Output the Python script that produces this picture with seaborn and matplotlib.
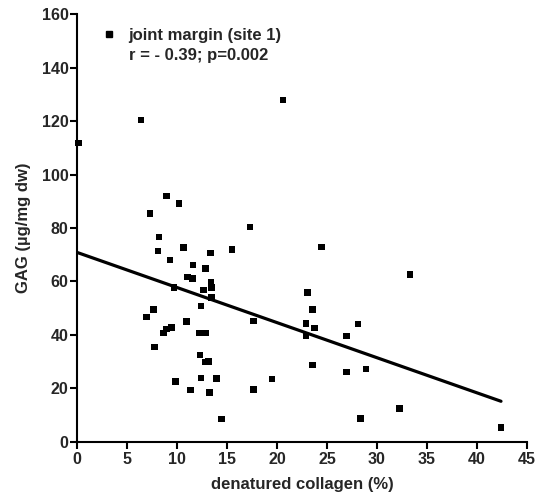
import numpy as np
import pandas as pd
import matplotlib
matplotlib.use("Agg")
import matplotlib.pyplot as plt
import seaborn as sns
from matplotlib.lines import Line2D

# Data
denatured_collagen = [0.13, 6.4, 20.6, 7.3, 8.97, 10.2, 17.3,
                      8.2, 8.1, 10.63, 9.3, 13.33, 15.5, 11.6, 12.83, 11.03, 11.57,
                      13.4, 13.47, 9.7, 12.63, 13.47, 12.4, 7.67, 6.97, 10.97, 17.63,
                      9.43, 8.97, 8.63, 12.2, 12.83, 7.73, 12.3, 12.83, 13.17, 12.4,
                      13.93, 19.5, 9.83, 11.33, 17.63, 13.23, 14.47,
                      24.43, 33.3, 23.03, 23.53, 22.9, 23.73, 28.1, 22.9, 26.97,
                      23.53, 26.93, 28.9, 32.23, 28.33, 42.4]
gag = [111.8, 120.5, 128.0, 85.5, 92.1, 89.3, 80.5,
       76.6, 71.5, 72.8, 68.1, 70.6, 71.9, 66.2, 64.9, 61.6, 61.2,
       59.6, 57.8, 57.7, 56.8, 54.1, 50.8, 49.6, 46.7, 45.1, 45.2,
       42.7, 42.2, 40.7, 40.7, 40.7, 35.5, 32.5, 29.9, 30.1, 23.9,
       23.7, 23.5, 22.6, 19.3, 19.6, 18.4, 8.5,
       73.0, 62.7, 55.8, 49.6, 44.3, 42.6, 44.0, 39.6, 39.5,
       28.8, 26.1, 27.2, 12.5, 8.6, 5.4]
fit_intercept = 70.9
fit_slope = -1.315
series_label = "joint margin (site 1)"
stats_label = "r = - 0.39; p=0.002"
x_ticks = [0, 5, 10, 15, 20, 25, 30, 35, 40, 45]
y_ticks = [0, 20, 40, 60, 80, 100, 120, 140, 160]

sns.set_style("ticks")
plt.rcParams['font.family'] = ['Liberation Sans', 'DejaVu Sans']
plt.rcParams['font.weight'] = 'bold'

df = pd.DataFrame({"x": denatured_collagen, "y": gag})

fig = plt.figure(figsize=(5.37, 4.97), dpi=100)
ax = fig.add_axes([77/537, 1-441.7/497, 450/537, (441.7-14.5)/497])

sns.scatterplot(data=df, x="x", y="y", ax=ax, marker="s", s=22, color="black",
                edgecolor="none", linewidth=0, clip_on=False, zorder=3)

xfit = np.array([0, max(denatured_collagen)])
sns.lineplot(x=xfit, y=fit_intercept + fit_slope * xfit, ax=ax, color="black",
             linewidth=2.3, zorder=2)

ax.set_xlim(0, 45)
ax.set_ylim(0, 160)
ax.set_xticks(x_ticks)
ax.set_yticks(y_ticks)
ax.set_xticklabels([str(t) for t in x_ticks], fontsize=11.5, fontweight="bold")
ax.set_yticklabels([str(t) for t in y_ticks], fontsize=11.5, fontweight="bold")
ax.tick_params(axis="x", direction="out", length=5, width=1.5, color="black", pad=2.5)
ax.tick_params(axis="y", direction="out", length=5, width=1.5, color="black", pad=1)
for s in ["left", "bottom"]:
    ax.spines[s].set_linewidth(1.5)
    ax.spines[s].set_color("black")
sns.despine(ax=ax)

ax.set_xlabel("denatured collagen (%)", fontsize=12, fontweight="bold", labelpad=7)
ax.set_ylabel("GAG (µg/mg dw)", fontsize=12, fontweight="bold", labelpad=8)

handles = [Line2D([], [], marker="s", linestyle="none", color="black", markersize=4.5),
           Line2D([], [], linestyle="none")]
leg = ax.legend(handles, [series_label, stats_label], loc="upper left",
                bbox_to_anchor=(0.035, 0.985), frameon=False,
                prop={"weight": "bold", "size": 12}, handletextpad=0.55,
                handlelength=1.2, labelspacing=0.3, borderaxespad=0)

fig.savefig("out.png", dpi=100)
